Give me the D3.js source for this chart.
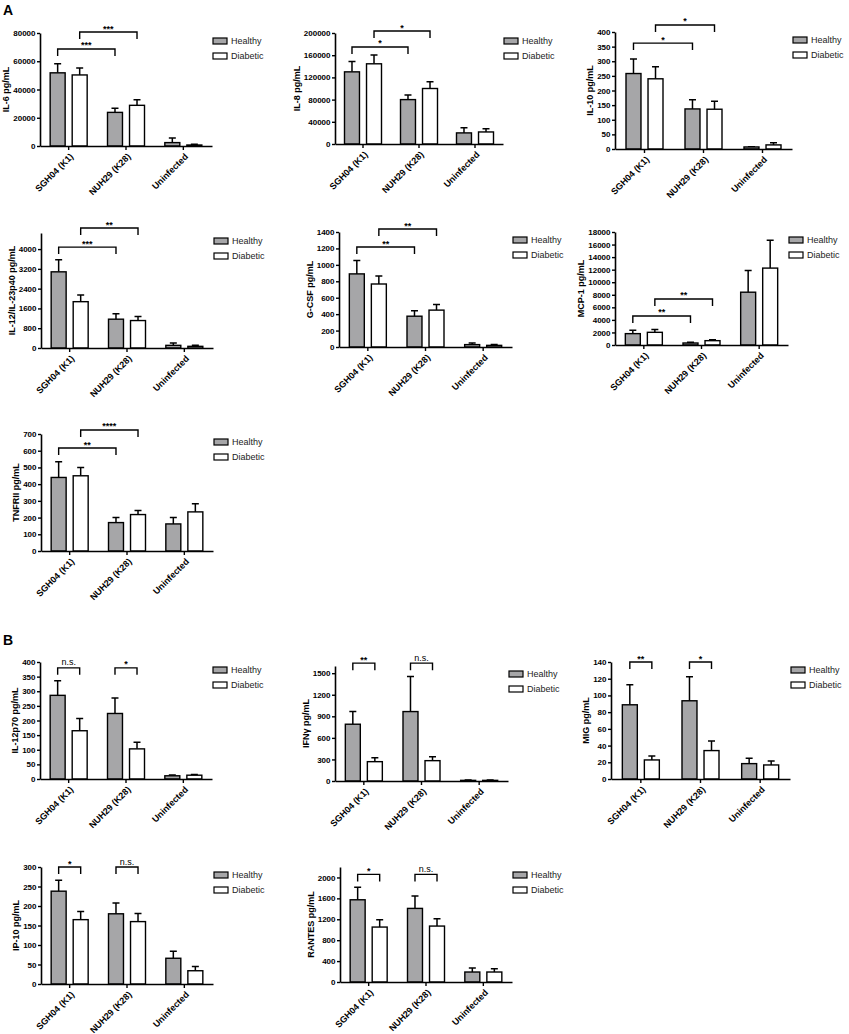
<!DOCTYPE html>
<html>
<head>
<meta charset="utf-8">
<script src="https://cdn.jsdelivr.net/npm/d3@7"></script>
<style>
  body { margin: 0; background: #fff; }
  svg { display: block; font-family: "Liberation Sans", Arial, sans-serif; }
</style>
</head>
<body>
<div id="fig"></div>
<script>
// categories
var groups = ["SGH04 (K1)", "NUH29 (K28)", "Uninfected"];
var series = ["Healthy", "Diabetic"];

// [mean, upper error] per group, pg/mL
var il6Healthy = [[51800, 6500], [23800, 3000], [2400, 3200]];
var il6Diabetic = [[50300, 5000], [28800, 3900], [700, 500]];
var il8Healthy = [[130000, 18500], [80000, 8500], [20000, 9500]];
var il8Diabetic = [[144500, 16000], [100000, 12000], [21700, 6000]];
var il10Healthy = [[258, 50], [137, 31], [7, 1]];
var il10Diabetic = [[240, 41], [136, 27], [14, 7]];
var il12p40Healthy = [[3080, 490], [1165, 215], [107, 93]];
var il12p40Diabetic = [[1873, 267], [1110, 160], [67, 40]];
var gcsfHealthy = [[890, 163], [375, 66], [29, 20]];
var gcsfDiabetic = [[767, 98], [449, 69], [20, 9]];
var mcp1Healthy = [[1810, 530], [320, 110], [8410, 3460]];
var mcp1Diabetic = [[2020, 430], [690, 160], [12250, 4420]];
var tnfr2Healthy = [[440, 94], [170, 30], [162, 38]];
var tnfr2Diabetic = [[450, 50], [218, 24], [234, 48]];
var il12p70Healthy = [[286, 50], [224, 53], [11, 3]];
var il12p70Diabetic = [[165, 42], [103, 23], [13, 2]];
var ifngHealthy = [[790, 176], [966, 488], [9, 5]];
var ifngDiabetic = [[269, 56], [283, 56], [9, 5]];
var migHealthy = [[88.8, 24], [93.6, 28.8], [18.4, 6.4]];
var migDiabetic = [[22.8, 4.8], [34, 11.6], [16.8, 4.8]];
var ip10Healthy = [[238, 28], [180, 28], [66, 18]];
var ip10Diabetic = [[165, 21], [160, 21], [34, 11]];
var rantesHealthy = [[1573, 242], [1408, 235], [191, 76]];
var rantesDiabetic = [[1051, 140], [1070, 140], [191, 64]];

// axis titles and ticks
var yTitles = ["IL-6 pg/mL", "IL-8 pg/mL", "IL-10 pg/mL", "IL-12/IL-23p40 pg/mL", "G-CSF pg/mL",
  "MCP-1 pg/mL", "TNFRII pg/mL", "IL-12p70 pg/mL", "IFNγ pg/mL", "MIG pg/mL", "IP-10 pg/mL", "RANTES pg/mL"];
var yMax = [80000, 200000, 400, 4650, 1400, 18000, 700, 400, 1600, 140, 300, 2200];
var yTickTop = [80000, 200000, 400, 4000, 1400, 18000, 700, 400, 1500, 140, 300, 2000];
var yTickStep = [20000, 40000, 50, 800, 200, 2000, 100, 50, 300, 20, 50, 400];

// significance: panel A compares SGH04 vs NUH29 (Healthy, Diabetic), panel B Healthy vs Diabetic per strain
// [label, bracket height in data units]
var sigA = [
  [["***", 68700], ["***", 80700]],
  [["*", 174800], ["*", 203600]],
  [["*", 362], ["*", 424]],
  [["***", 4080], ["**", 4850]],
  [["**", 1217], ["**", 1436]],
  [["**", 4620], ["**", 7330]],
  [["**", 616], ["****", 724]]
];
var sigB = [
  [["n.s.", 380], ["*", 380]],
  [["**", 1640], ["n.s.", 1640]],
  [["**", 140], ["*", 140]],
  [["*", 300], ["n.s.", 300]],
  [["*", 2058], ["n.s.", 2058]]
];

var panelData = [
  [il6Healthy, il6Diabetic], [il8Healthy, il8Diabetic], [il10Healthy, il10Diabetic],
  [il12p40Healthy, il12p40Diabetic], [gcsfHealthy, gcsfDiabetic], [mcp1Healthy, mcp1Diabetic],
  [tnfr2Healthy, tnfr2Diabetic], [il12p70Healthy, il12p70Diabetic], [ifngHealthy, ifngDiabetic],
  [migHealthy, migDiabetic], [ip10Healthy, ip10Diabetic], [rantesHealthy, rantesDiabetic]
];

// plot boxes (pixels)
var layout = [
  {left: 40, right: 212, top: 33, bottom: 146},
  {left: 335, right: 503, top: 33, bottom: 144},
  {left: 615, right: 792, top: 32, bottom: 149},
  {left: 41, right: 213, top: 233, bottom: 348},
  {left: 339, right: 512, top: 232, bottom: 347},
  {left: 615, right: 788, top: 232, bottom: 345},
  {left: 41, right: 213, top: 434, bottom: 551},
  {left: 40, right: 212, top: 662, bottom: 779},
  {left: 335, right: 508, top: 666, bottom: 781},
  {left: 611, right: 790, top: 662, bottom: 779},
  {left: 41, right: 213, top: 867, bottom: 984},
  {left: 340, right: 512, top: 867, bottom: 982}
];

var colors = {Healthy: "#a6a6a8", Diabetic: "#ffffff"};

var svg = d3.select("#fig").append("svg")
  .attr("width", 849)
  .attr("height", 1034);

svg.append("rect").attr("width", 849).attr("height", 1034).attr("fill", "#fff");

svg.append("text").attr("x", 3).attr("y", 15)
  .attr("font-size", 14).attr("font-weight", "bold").text("A");
svg.append("text").attr("x", 3).attr("y", 645)
  .attr("font-size", 14).attr("font-weight", "bold").text("B");

function drawPanel(i) {
  var L = layout[i];
  var healthy = panelData[i][0], diabetic = panelData[i][1];
  var g = svg.append("g");

  var x = d3.scaleBand().domain(groups).range([L.left, L.right]);
  var xi = d3.scaleBand().domain(series).range([-18.5, 18.5]).paddingInner(0.32);
  var y = d3.scaleLinear().domain([0, yMax[i]]).range([L.bottom, L.top]);

  function cx(grp, s) { return x(grp) + x.bandwidth() / 2 + xi(s) + xi.bandwidth() / 2; }

  var rows = [];
  groups.forEach(function(grp, k) {
    rows.push({grp: grp, s: "Healthy", m: healthy[k][0], e: healthy[k][1]});
    rows.push({grp: grp, s: "Diabetic", m: diabetic[k][0], e: diabetic[k][1]});
  });

  // error bars (upper only)
  g.selectAll(".err").data(rows).enter().append("path")
    .attr("fill", "none").attr("stroke", "#000").attr("stroke-width", 1.5)
    .attr("d", function(d) {
      var c = cx(d.grp, d.s);
      return "M" + c + "," + y(d.m) + "V" + y(d.m + d.e) + "M" + (c - 3.5) + "," + y(d.m + d.e) + "H" + (c + 3.5);
    });

  g.selectAll(".bar").data(rows).enter().append("rect")
    .attr("x", function(d) { return x(d.grp) + x.bandwidth() / 2 + xi(d.s); })
    .attr("y", function(d) { return y(d.m); })
    .attr("width", xi.bandwidth())
    .attr("height", function(d) { return y(0) - y(d.m); })
    .attr("fill", function(d) { return colors[d.s]; })
    .attr("stroke", "#000").attr("stroke-width", 1.4);

  // axes
  var ya = g.append("g")
    .attr("transform", "translate(" + L.left + ",0)")
    .call(d3.axisLeft(y)
      .tickValues(d3.range(0, yTickTop[i] + 1e-6, yTickStep[i]))
      .tickFormat(d3.format("d"))
      .tickSize(3).tickSizeOuter(0).tickPadding(1.5));
  ya.select(".domain").attr("stroke-width", 1.6);
  ya.selectAll(".tick line").attr("stroke-width", 1.4);
  ya.selectAll("text").attr("font-size", 8).attr("font-weight", "bold").attr("fill", "#000")
    .attr("font-family", "'Liberation Sans', Arial, sans-serif");

  var xa = g.append("g")
    .attr("transform", "translate(0," + L.bottom + ")")
    .call(d3.axisBottom(x).tickSize(4).tickSizeOuter(0));
  xa.select(".domain").attr("stroke-width", 1.6);
  xa.selectAll(".tick line").attr("stroke-width", 1.4);
  xa.selectAll("text")
    .attr("font-size", 9).attr("font-weight", "bold").attr("fill", "#000")
    .attr("font-family", "'Liberation Sans', Arial, sans-serif")
    .attr("x", -4.2).attr("y", 8.5).attr("dy", "0.35em")
    .attr("transform", "rotate(-45)")
    .style("text-anchor", "end");

  var bb = ya.node().getBBox();
  g.append("text")
    .attr("transform", "translate(" + (L.left + bb.x - 4) + "," + ((L.top + L.bottom) / 2) + ") rotate(-90)")
    .attr("text-anchor", "middle")
    .attr("font-size", 9).attr("font-weight", "bold")
    .text(yTitles[i]);

  // legend
  series.forEach(function(s, k) {
    var ly = L.top + 8 + k * 15;
    g.append("rect").attr("x", L.right + 1).attr("y", ly - 3).attr("width", 14).attr("height", 6)
      .attr("fill", colors[s]).attr("stroke", "#000").attr("stroke-width", 1.2);
    g.append("text").attr("x", L.right + 19).attr("y", ly).attr("dy", "0.35em")
      .attr("font-size", 9).attr("fill", "#222").text(s);
  });

  // significance brackets
  var brackets = [];
  if (i < 7) {
    series.forEach(function(s, k) {
      brackets.push({x1: cx(groups[0], s), x2: cx(groups[1], s), lab: sigA[i][k][0], lev: sigA[i][k][1]});
    });
  } else {
    [0, 1].forEach(function(k) {
      brackets.push({x1: cx(groups[k], "Healthy"), x2: cx(groups[k], "Diabetic"), lab: sigB[i - 7][k][0], lev: sigB[i - 7][k][1]});
    });
  }
  brackets.forEach(function(b) {
    var yl = y(b.lev);
    g.append("path").attr("fill", "none").attr("stroke", "#000").attr("stroke-width", 1.4)
      .attr("d", "M" + b.x1 + "," + (yl + 7) + "V" + yl + "H" + b.x2 + "V" + (yl + 7));
    var ns = b.lab === "n.s.";
    g.append("text").attr("x", (b.x1 + b.x2) / 2).attr("y", yl - (ns ? 2.5 : 0.5))
      .attr("text-anchor", "middle")
      .attr("font-size", 9).attr("font-weight", ns ? "normal" : "bold")
      .text(b.lab);
  });
}

for (var i = 0; i < layout.length; i++) drawPanel(i);
</script>
</body>
</html>
